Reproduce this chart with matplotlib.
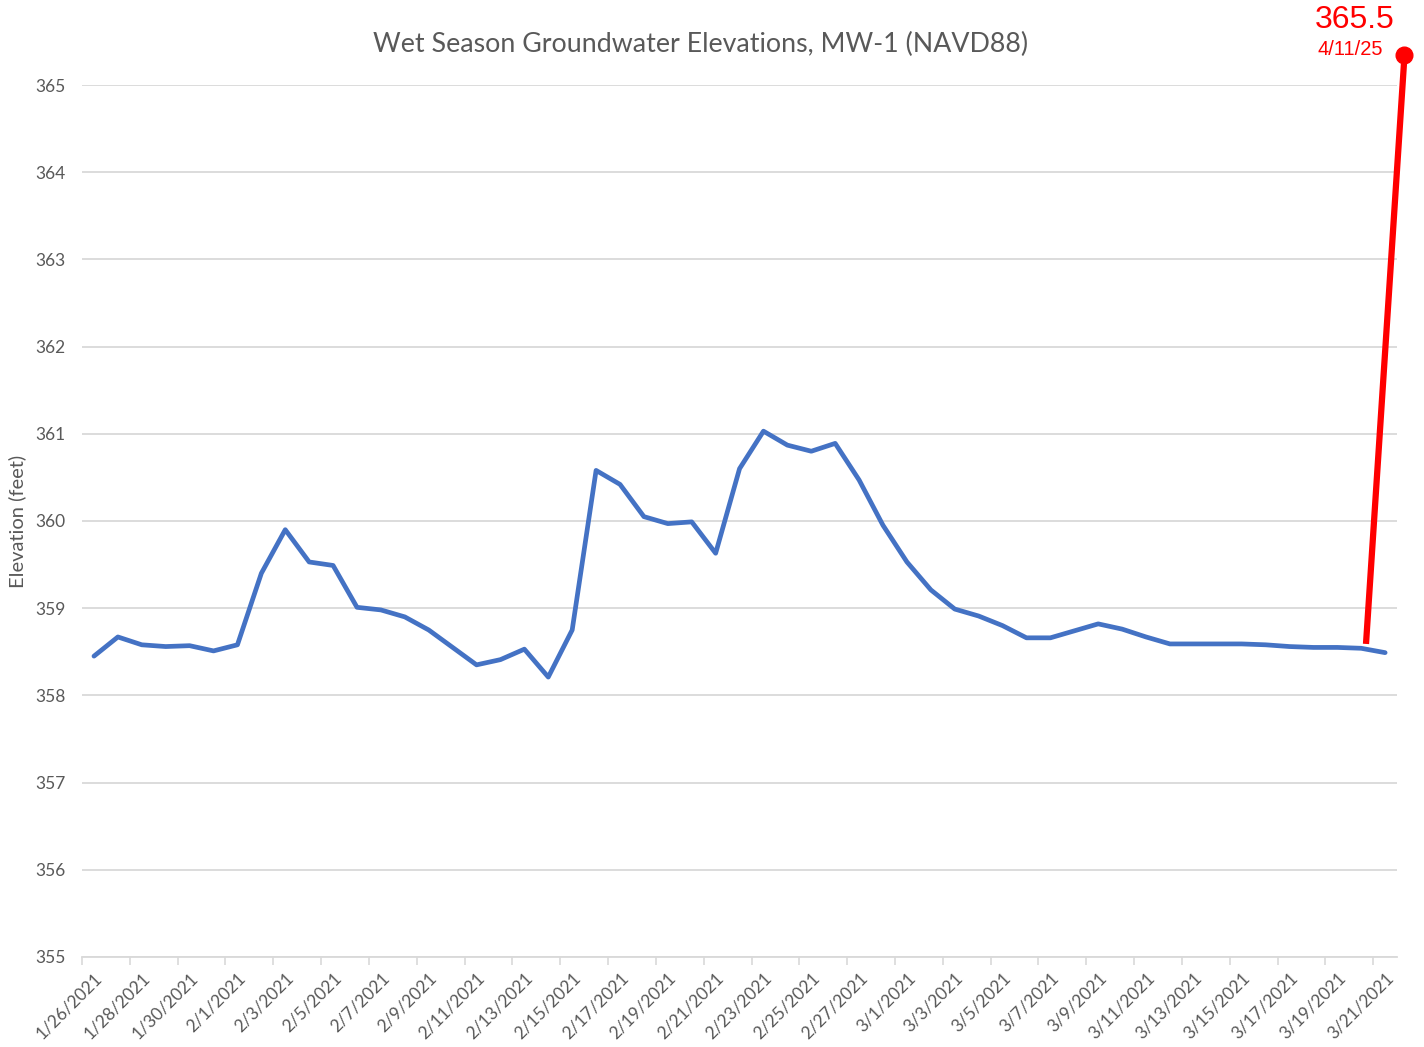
import matplotlib.pyplot as plt
import numpy as np
import pandas as pd

# daily readings, 1/26/2021 .. 3/21/2021
dates = pd.date_range('2021-01-26', '2021-03-21', freq='D')
date_labels = ['{}/{}/{}'.format(d.month, d.day, d.year) for d in dates]

elevation = [
    358.45, 358.67, 358.58, 358.56, 358.57, 358.51, 358.58, 359.40, 359.90, 359.53,
    359.49, 359.01, 358.98, 358.90, 358.75, 358.55, 358.35, 358.41, 358.53, 358.21,
    358.75, 360.58, 360.42, 360.05, 359.97, 359.99, 359.63, 360.60, 361.03, 360.87,
    360.80, 360.89, 360.47, 359.95, 359.53, 359.21, 358.99, 358.91, 358.80, 358.66,
    358.66, 358.74, 358.82, 358.76, 358.67, 358.59, 358.59, 358.59, 358.59, 358.58,
    358.56, 358.55, 358.55, 358.54, 358.49,
]

# red overlay line (drawn over the chart, runs off the plot area)
spike_x = [53.2, 54.81]
spike_y = [358.59, 365.34]
spike_value = '365.5'
spike_date = '4/11/25'

y_ticks = [355, 356, 357, 358, 359, 360, 361, 362, 363, 364, 365]

TEXT = '#595959'
GRID = '#d9d9d9'
plt.rcParams['font.family'] = ['Lato', 'DejaVu Sans']

fig = plt.figure(figsize=(14.24, 10.47), dpi=100)
ax = fig.add_axes([0.0576, 0.0860, 0.9235, 0.8328])

x = np.arange(len(elevation))
ax.plot(x, elevation, color='#4472c4', lw=3.4, solid_joinstyle='round',
        solid_capstyle='round', zorder=3)

ax.set_xlim(-0.5, len(elevation) - 0.5)
ax.set_ylim(355, 365)
ax.set_yticks(y_ticks)
ax.set_yticklabels([str(v) for v in y_ticks], color=TEXT, fontsize=12.5)
ax.tick_params(axis='y', length=0, pad=12)
ax.grid(axis='y', color=GRID, lw=1.3)
ax.set_axisbelow(True)

ax.set_xticks(x[::2])
ax.set_xticklabels(date_labels[::2], rotation=45, ha='right', va='top',
                   rotation_mode='anchor', color=TEXT, fontsize=12.5)
ax.set_xticks(np.arange(-0.5, len(elevation), 2), minor=True)
ax.tick_params(axis='x', which='major', length=0, pad=9)
ax.tick_params(axis='x', which='minor', length=6, width=1.2, color=GRID)

for s in ['left', 'right', 'top']:
    ax.spines[s].set_visible(False)
ax.spines['bottom'].set_color(GRID)
ax.spines['bottom'].set_linewidth(1.3)

ax.set_ylabel('Elevation (feet)', color=TEXT, fontsize=14.5, labelpad=6)
fig.text(0.492, 0.958, 'Wet Season Groundwater Elevations, MW-1 (NAVD88)',
         ha='center', va='center', color=TEXT, fontsize=19.3)

# red spike annotation
ax.plot(spike_x, spike_y, color='red', lw=4.5, solid_capstyle='butt',
        clip_on=False, zorder=5)
ax.plot(spike_x[-1], spike_y[-1], 'o', color='red', ms=12, clip_on=False, zorder=6)
ax.annotate(spike_value, (spike_x[-1], spike_y[-1]), xytext=(-50, 35),
            textcoords='offset pixels', ha='center', va='center', color='red',
            fontsize=23, family='Liberation Sans', annotation_clip=False)
ax.annotate(spike_date, (spike_x[-1], spike_y[-1]), xytext=(-54, 6),
            textcoords='offset pixels', ha='center', va='center', color='red',
            fontsize=14.5, family='Liberation Sans', annotation_clip=False)

fig.savefig('out.png', dpi=100)
